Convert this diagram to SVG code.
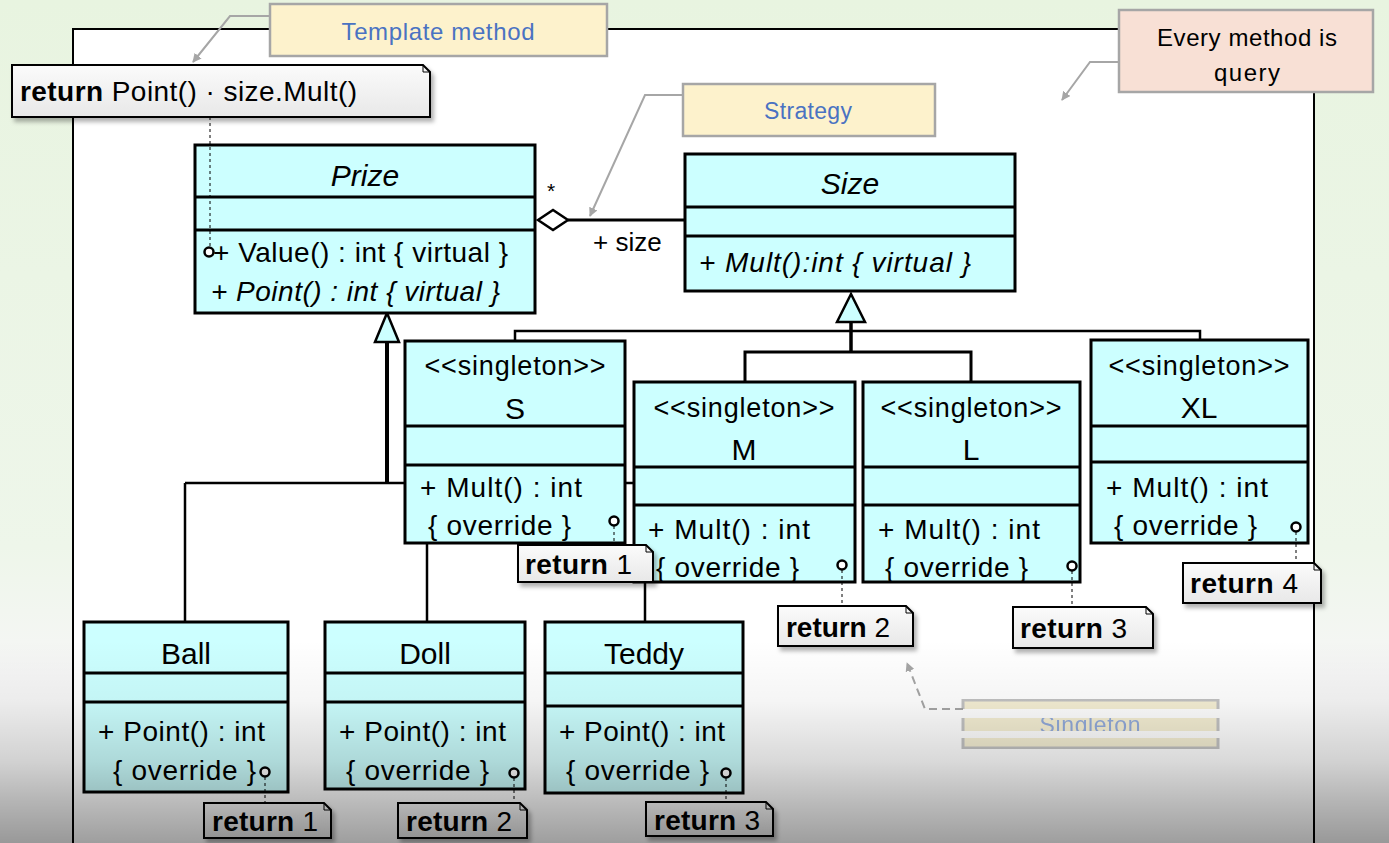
<svg xmlns="http://www.w3.org/2000/svg" width="1389" height="843" viewBox="0 0 1389 843">
<defs>
<style>
.cls{fill:#ccffff;stroke:#000;stroke-width:3}
.dv{stroke:#000;stroke-width:3}
.t{font-family:"Liberation Sans",Arial,sans-serif;fill:#000}
.nm{font-size:30px;text-anchor:middle}
.st{font-size:27px;text-anchor:middle}
.op{font-size:28px}
.it{font-style:italic}
.note{fill:url(#ng);stroke:#000;stroke-width:2;filter:url(#sh)}
.fold{fill:none;stroke:#000;stroke-width:1}
.nt{font-size:28px}
.b{font-weight:bold}
.ln{stroke:#000;fill:none}
.dash{stroke:#000;stroke-width:1;stroke-dasharray:3 3;fill:none}
.pin{fill:#fff;stroke:#000;stroke-width:2.5}
.call{stroke:#a6a6a6;stroke-width:2;fill:none}
.ann{stroke:#a6a6a6;stroke-width:2.5}
.at{font-family:"Liberation Sans",Arial,sans-serif;text-anchor:middle}
</style>
<linearGradient id="bg" x1="0" y1="0" x2="0" y2="1">
<stop offset="0" stop-color="#e8f4e0"/>
<stop offset="0.65" stop-color="#eef6ea"/>
<stop offset="0.8" stop-color="#f6f6f6"/>
<stop offset="1" stop-color="#f6f6f6"/>
</linearGradient>
<linearGradient id="ng" x1="0" y1="0" x2="0" y2="1"><stop offset="0" stop-color="#fbfbfb"/><stop offset="1" stop-color="#e8e8e8"/></linearGradient>
<linearGradient id="ov" x1="0" y1="0" x2="0" y2="1">
<stop offset="0" stop-color="#000" stop-opacity="0"/>
<stop offset="0.3" stop-color="#000" stop-opacity="0.04"/>
<stop offset="0.6" stop-color="#000" stop-opacity="0.15"/>
<stop offset="0.8" stop-color="#000" stop-opacity="0.27"/>
<stop offset="1" stop-color="#000" stop-opacity="0.38"/>
</linearGradient>
<filter id="sh" x="-10%" y="-20%" width="130%" height="160%"><feDropShadow dx="3" dy="4" stdDeviation="2" flood-color="#000" flood-opacity="0.3"/></filter>
<marker id="ga" viewBox="0 0 10 10" refX="9" refY="5" markerWidth="4.5" markerHeight="4.5" orient="auto" markerUnits="strokeWidth"><path d="M0,0 L10,5 L0,10 z" fill="#a6a6a6"/></marker>
<clipPath id="stripes"><rect x="955" y="699" width="270" height="10"/><rect x="955" y="718" width="270" height="13"/><rect x="955" y="738" width="270" height="11"/></clipPath>
</defs>

<rect x="0" y="0" width="1389" height="843" fill="url(#bg)"/>
<rect x="73" y="29" width="1241" height="830" fill="#fff" stroke="#000" stroke-width="2"/>

<g id="connectors">
<line class="ln" x1="387" y1="342" x2="387" y2="483" stroke-width="4"/>
<line class="ln" x1="185" y1="483" x2="645" y2="483" stroke-width="2.5"/>
<line class="ln" x1="185" y1="483" x2="185" y2="622" stroke-width="2.5"/>
<line class="ln" x1="427" y1="483" x2="427" y2="622" stroke-width="2.5"/>
<line class="ln" x1="645" y1="483" x2="645" y2="622" stroke-width="2.5"/>
<polygon points="387,313 375,342 399,342" fill="#ccffff" stroke="#000" stroke-width="2.5"/>
<line class="ln" x1="851" y1="322" x2="851" y2="352" stroke-width="3.5"/>
<polyline class="ln" points="515,341 515,331 1200,331 1200,340" stroke-width="2.5"/>
<polyline class="ln" points="745,382 745,352 971,352 971,382" stroke-width="3"/>
<polygon points="851,294 837,322 865,322" fill="#ccffff" stroke="#000" stroke-width="2.5"/>
<line class="ln" x1="568" y1="220" x2="685" y2="220" stroke-width="3"/>
<polygon points="538,220 553,210 568,220 553,230" fill="#fff" stroke="#000" stroke-width="2.5"/>
<text class="t" x="551" y="198" font-size="21" text-anchor="middle">*</text>
<text class="t" x="593" y="251" font-size="26">+ size</text>
<polyline class="call" points="270,16 230,16 193,62" marker-end="url(#ga)"/>
<polyline class="call" points="683,95 645,95 590,216" marker-end="url(#ga)"/>
<polyline class="call" points="1119,62 1090,62 1062,100" marker-end="url(#ga)"/>
<polyline class="call" points="963,709 925,709 907,663" stroke-dasharray="8 5" marker-end="url(#ga)"/>
</g>

<g id="Prize">
<rect class="cls" x="195" y="145" width="340" height="168"/>
<line class="dv" x1="195" y1="197" x2="535" y2="197"/>
<line class="dv" x1="195" y1="230" x2="535" y2="230"/>
<text class="t nm it" x="365" y="186" font-size="29">Prize</text>
<text class="t op" x="213" y="262" textLength="295">+ Value() : int { virtual }</text>
<text class="t op it" x="211" y="301" textLength="289">+ Point() : int { virtual }</text>
</g>

<g id="Size">
<rect class="cls" x="685" y="154" width="330" height="137"/>
<line class="dv" x1="685" y1="207" x2="1015" y2="207"/>
<line class="dv" x1="685" y1="236" x2="1015" y2="236"/>
<text class="t nm it" x="850" y="194" font-size="29">Size</text>
<text class="t op it" x="699" y="272" textLength="272">+ Mult():int { virtual }</text>
</g>

<g id="S">
<rect class="cls" x="405" y="341" width="220" height="202"/>
<line class="dv" x1="405" y1="426" x2="625" y2="426"/>
<line class="dv" x1="405" y1="465" x2="625" y2="465"/>
<text class="t st" x="515" y="375" textLength="181">&lt;&lt;singleton&gt;&gt;</text>
<text class="t nm" x="515" y="419" font-size="29">S</text>
<text class="t op" x="420" y="497" textLength="162">+ Mult() : int</text>
<text class="t op" x="428" y="535" textLength="143">{ override }</text>
</g>

<g id="M">
<rect class="cls" x="634" y="382" width="221" height="200"/>
<line class="dv" x1="634" y1="467" x2="855" y2="467"/>
<line class="dv" x1="634" y1="505" x2="855" y2="505"/>
<text class="t st" x="744" y="417" textLength="181">&lt;&lt;singleton&gt;&gt;</text>
<text class="t nm" x="744" y="460" font-size="29">M</text>
<text class="t op" x="648" y="539" textLength="162">+ Mult() : int</text>
<text class="t op" x="656" y="577" textLength="143">{ override }</text>
</g>

<g id="L">
<rect class="cls" x="863" y="382" width="217" height="200"/>
<line class="dv" x1="863" y1="467" x2="1080" y2="467"/>
<line class="dv" x1="863" y1="505" x2="1080" y2="505"/>
<text class="t st" x="971" y="417" textLength="181">&lt;&lt;singleton&gt;&gt;</text>
<text class="t nm" x="971" y="460" font-size="29">L</text>
<text class="t op" x="878" y="539" textLength="162">+ Mult() : int</text>
<text class="t op" x="885" y="577" textLength="143">{ override }</text>
</g>

<g id="XL">
<rect class="cls" x="1091" y="340" width="217" height="203"/>
<line class="dv" x1="1091" y1="426" x2="1308" y2="426"/>
<line class="dv" x1="1091" y1="462" x2="1308" y2="462"/>
<text class="t st" x="1199" y="375" textLength="181">&lt;&lt;singleton&gt;&gt;</text>
<text class="t nm" x="1199" y="418" font-size="29">XL</text>
<text class="t op" x="1106" y="497" textLength="162">+ Mult() : int</text>
<text class="t op" x="1114" y="535" textLength="143">{ override }</text>
</g>

<g id="Ball">
<rect class="cls" x="84" y="622" width="204" height="170"/>
<line class="dv" x1="84" y1="673" x2="288" y2="673"/>
<line class="dv" x1="84" y1="702" x2="288" y2="702"/>
<text class="t nm" x="186" y="664">Ball</text>
<text class="t op" x="98" y="741" textLength="167">+ Point() : int</text>
<text class="t op" x="113" y="780" textLength="143">{ override }</text>
</g>

<g id="Doll">
<rect class="cls" x="325" y="622" width="200" height="167"/>
<line class="dv" x1="325" y1="673" x2="525" y2="673"/>
<line class="dv" x1="325" y1="702" x2="525" y2="702"/>
<text class="t nm" x="425" y="664">Doll</text>
<text class="t op" x="339" y="741" textLength="167">+ Point() : int</text>
<text class="t op" x="346" y="780" textLength="143">{ override }</text>
</g>

<g id="Teddy">
<rect class="cls" x="545" y="622" width="198" height="171"/>
<line class="dv" x1="545" y1="673" x2="743" y2="673"/>
<line class="dv" x1="545" y1="706" x2="743" y2="706"/>
<text class="t nm" x="644" y="664">Teddy</text>
<text class="t op" x="559" y="741" textLength="166">+ Point() : int</text>
<text class="t op" x="566" y="780" textLength="143">{ override }</text>
</g>

<g id="note-links">
<line class="dash" x1="210" y1="117" x2="210" y2="247"/>
<line class="dash" x1="614" y1="526" x2="614" y2="545"/>
<line class="dash" x1="842" y1="570" x2="842" y2="606"/>
<line class="dash" x1="1072" y1="571" x2="1072" y2="607"/>
<line class="dash" x1="1296" y1="532" x2="1296" y2="563"/>
<line class="dash" x1="265" y1="777" x2="265" y2="803"/>
<line class="dash" x1="514" y1="778" x2="514" y2="803"/>
<line class="dash" x1="726" y1="778" x2="726" y2="802"/>
<circle class="pin" cx="209" cy="252" r="4.5"/>
<circle class="pin" cx="614" cy="521" r="4.5"/>
<circle class="pin" cx="842" cy="565" r="4.5"/>
<circle class="pin" cx="1072" cy="566" r="4.5"/>
<circle class="pin" cx="1296" cy="527" r="4.5"/>
<circle class="pin" cx="265" cy="772" r="4.5"/>
<circle class="pin" cx="514" cy="773" r="4.5"/>
<circle class="pin" cx="726" cy="773" r="4.5"/>
</g>

<g id="note-template">
<path class="note" d="M12 65 H423 L430 72 V117 H12 Z"/>
<path class="fold" d="M423 65 V72 H430"/>
<text class="t nt" x="20" y="101" textLength="337"><tspan class="b">return</tspan> Point() · size.Mult()</text>
</g>
<g id="note-S">
<path class="note" d="M518 545 H646 L653 552 V582 H518 Z"/>
<path class="fold" d="M646 545 V552 H653"/>
<text class="t nt" x="525" y="574" textLength="107"><tspan class="b">return</tspan> 1</text>
</g>
<g id="note-M">
<path class="note" d="M778 606 H906 L913 613 V646 H778 Z"/>
<path class="fold" d="M906 606 V613 H913"/>
<text class="t nt" x="786" y="637" textLength="104"><tspan class="b">return</tspan> 2</text>
</g>
<g id="note-L">
<path class="note" d="M1013 607 H1146 L1153 614 V648 H1013 Z"/>
<path class="fold" d="M1146 607 V614 H1153"/>
<text class="t nt" x="1020" y="638" textLength="107"><tspan class="b">return</tspan> 3</text>
</g>
<g id="note-XL">
<path class="note" d="M1183 563 H1314 L1321 570 V603 H1183 Z"/>
<path class="fold" d="M1314 563 V570 H1321"/>
<text class="t nt" x="1190" y="593" textLength="108"><tspan class="b">return</tspan> 4</text>
</g>
<g id="note-Ball">
<path class="note" d="M204 803 H324 L331 810 V838 H204 Z"/>
<path class="fold" d="M324 803 V810 H331"/>
<text class="t nt" x="212" y="831" textLength="106"><tspan class="b">return</tspan> 1</text>
</g>
<g id="note-Doll">
<path class="note" d="M398 803 H520 L527 810 V838 H398 Z"/>
<path class="fold" d="M520 803 V810 H527"/>
<text class="t nt" x="406" y="831" textLength="106"><tspan class="b">return</tspan> 2</text>
</g>
<g id="note-Teddy">
<path class="note" d="M646 802 H766 L773 809 V836 H646 Z"/>
<path class="fold" d="M766 802 V809 H773"/>
<text class="t nt" x="654" y="830" textLength="106"><tspan class="b">return</tspan> 3</text>
</g>

<g id="ann-template">
<rect class="ann" x="270" y="4" width="337" height="52" fill="#fdf2cc"/>
<text class="at" x="438" y="40" font-size="24" fill="#4a72c2" textLength="193">Template method</text>
</g>
<g id="ann-strategy">
<rect class="ann" x="683" y="84" width="252" height="52" fill="#fdf2cc"/>
<text class="at" x="808" y="119" font-size="23" fill="#4a72c2" textLength="88">Strategy</text>
</g>
<g id="ann-query">
<rect class="ann" x="1119" y="10" width="254" height="82" fill="#f8e0d5"/>
<text class="at" x="1247" y="46" font-size="24" fill="#000" textLength="180">Every method is</text>
<text class="at" x="1247" y="81" font-size="24" fill="#000" textLength="66">query</text>
</g>
<g id="ann-singleton" clip-path="url(#stripes)" opacity="0.6">
<rect x="963" y="700" width="255" height="48" fill="#efe4b8" stroke="#9a9a9a" stroke-width="3"/>
<text class="at" x="1090" y="733" font-size="23" fill="#4a72c2" textLength="101">Singleton</text>
</g>

<rect x="0" y="640" width="1389" height="203" fill="url(#ov)"/>
</svg>
